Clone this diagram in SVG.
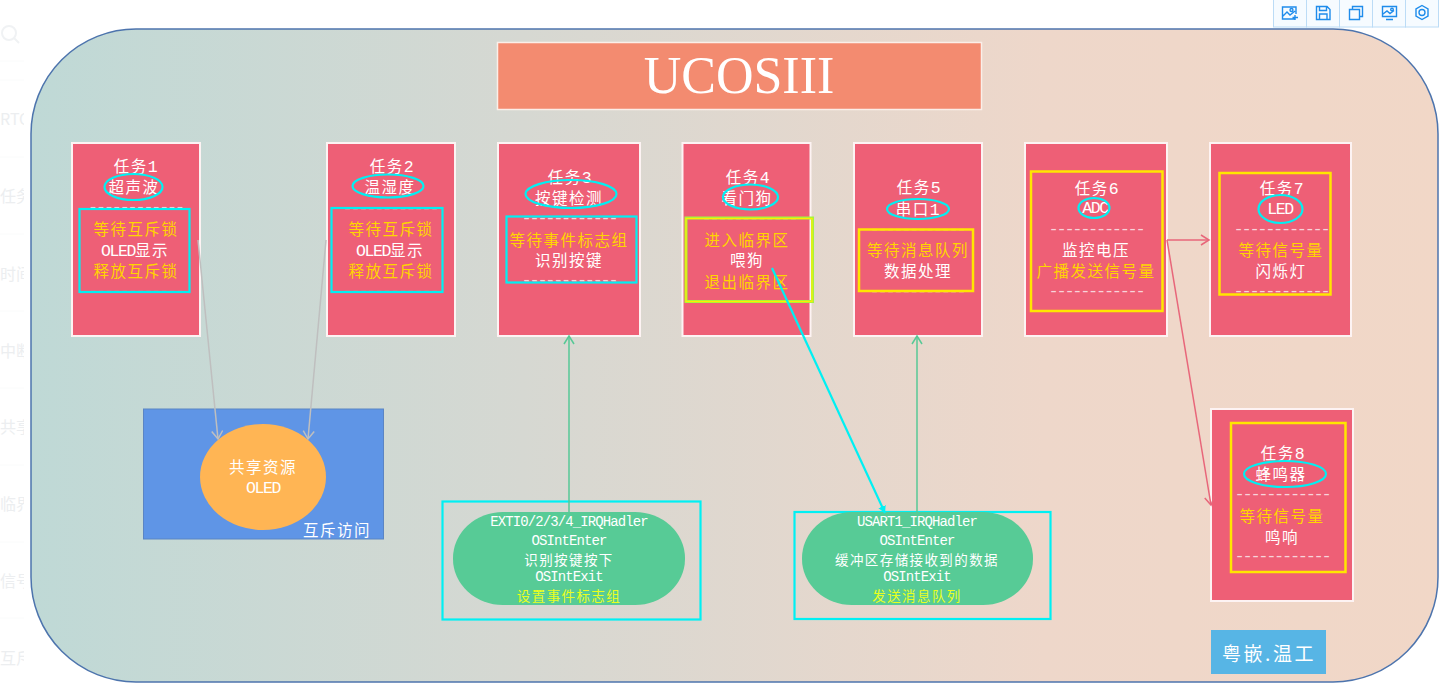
<svg xmlns="http://www.w3.org/2000/svg" width="1439" height="683" viewBox="0 0 1439 683">
<style>
text{font-family:"Noto Sans CJK SC","Liberation Sans",sans-serif;text-anchor:middle;dominant-baseline:central;fill:#fff}
.t{font-size:15.5px;letter-spacing:1.5px;dominant-baseline:auto;transform:translateY(6px)}
.y{fill:#ffd500}
.m{font-family:"Liberation Mono",monospace;font-size:16.5px;letter-spacing:-1.4px}
.d{font-family:"Liberation Mono",monospace;font-size:17px;letter-spacing:-2.3px;fill:#f8d3da}
.s{font-size:13.5px;letter-spacing:1.4px}
.sm{font-family:"Liberation Mono",monospace;font-size:14px;letter-spacing:-.9px}
.yy{fill:#e8ff1e}
.task{fill:#ee5f76;stroke:#fdf3f3;stroke-width:2}
.cy{fill:none;stroke:#00f0f3;stroke-width:2.2}
.ye{fill:none;stroke:#ffe600;stroke-width:2.5}
.ghost{font-size:16px;fill:#eceef0;text-anchor:start}
.tb{fill:#f6fbff;stroke:#bcdcf6;stroke-width:1}
.ic{fill:none;stroke:#1f8ceb;stroke-width:1.4}
.con{fill:none;stroke-width:1.5}
</style>
<defs>
<linearGradient id="bg" x1="0" y1="0" x2="1" y2="0"><stop offset="0" stop-color="#bfd9d6"/><stop offset=".35" stop-color="#d6d8d2"/><stop offset=".72" stop-color="#eed7ca"/><stop offset="1" stop-color="#f1d7c7"/></linearGradient>
<clipPath id="gc"><rect x="0" y="0" width="24" height="683"/></clipPath>
<marker id="aGray" markerUnits="userSpaceOnUse" markerWidth="16" markerHeight="16" refX="10" refY="6" orient="auto"><path d="M2 0.5L10 6L2 11.5" fill="none" stroke="#bfbfbf" stroke-width="1.5"/></marker>
<marker id="aGreen" markerUnits="userSpaceOnUse" markerWidth="16" markerHeight="16" refX="10" refY="6" orient="auto"><path d="M2 1L10 6L2 11" fill="none" stroke="#57c996" stroke-width="1.5"/></marker>
<marker id="aRed" markerUnits="userSpaceOnUse" markerWidth="16" markerHeight="16" refX="10" refY="6" orient="auto"><path d="M2 1L10 6L2 11" fill="none" stroke="#e8667a" stroke-width="1.5"/></marker>
<marker id="aCyan" markerUnits="userSpaceOnUse" markerWidth="10" markerHeight="10" refX="7" refY="4" orient="auto"><path d="M0 0L7 4L0 8Z" fill="#00f0f3"/></marker>
</defs>
<rect width="1439" height="683" fill="#fff"/>
<g id="ghost-sidebar" clip-path="url(#gc)">
<circle cx="9" cy="33" r="7" fill="none" stroke="#f0f2f4" stroke-width="2"/><path d="M14 38L19 43" stroke="#f0f2f4" stroke-width="2"/>
<path d="M0 61H24M0 80H24M0 157H24M0 234H24M0 311H24M0 388H24M0 465H24M0 542H24M0 618H24" stroke="#fafbfb" stroke-width="1"/>
<text class="ghost" x="0" y="118">RTOS</text><text class="ghost" x="0" y="195">任务</text><text class="ghost" x="0" y="273">时间</text><text class="ghost" x="0" y="350">中断</text><text class="ghost" x="0" y="426">共享</text><text class="ghost" x="0" y="503">临界</text><text class="ghost" x="0" y="580">信号</text><text class="ghost" x="0" y="657">互斥</text>
</g>
<g id="toolbar">
<rect class="tb" x="1273.5" y="-1" width="33" height="28"/><rect class="tb" x="1306.5" y="-1" width="33" height="28"/><rect class="tb" x="1339.5" y="-1" width="33" height="28"/><rect class="tb" x="1372.5" y="-1" width="33" height="28"/><rect class="tb" x="1405.5" y="-1" width="33" height="28"/>
<path class="ic" d="M1295 19H1282.500V7H1296V14M1283 16L1287 12L1290 15L1295 11M1295 15V20M1292.500 17.500H1298"/><circle class="ic" cx="1291.500" cy="10" r="1.500"/>
<path class="ic" d="M1316.500 6.500H1327L1330 9.500V19.500H1316.500ZM1319.500 6.500V10.500H1326.500V6.500M1319.500 19.500V14H1327V19.500"/>
<path class="ic" d="M1349.500 9.500H1359.500V19.500H1349.500ZM1352.500 9.500V6.500H1362.500V16.500H1359.500"/>
<path class="ic" d="M1382.500 6.500H1396.500V16.500H1382.500ZM1383 14L1387 11L1390 13.500L1394 10.500M1386 19.500H1393"/><circle class="ic" cx="1392" cy="9.500" r="1.300"/>
<path class="ic" d="M1422 5.500L1428 9V16L1422 19.500L1416 16V9Z"/><circle class="ic" cx="1422" cy="12.500" r="3"/>
</g>
<rect id="panel" x="31" y="29" width="1407" height="653" rx="105" ry="105" fill="url(#bg)" stroke="#4d74ad" stroke-width="1.500"/>
<g id="title"><rect x="497.500" y="42.500" width="484" height="67" fill="#f38b70" stroke="#fbeee8" stroke-width="1.500"/><text x="739" y="75" style="font-family:'Liberation Serif',serif;font-size:52px">UCOSIII</text></g>

<g id="task1"><rect class="task" x="72" y="143" width="128" height="193"/>
<text class="t" x="135" y="166">任务<tspan class="m">1</tspan></text><text class="t" x="134" y="187">超声波</text><ellipse class="cy" cx="133.500" cy="187" rx="29" ry="13"/>
<text class="d" x="135.500" y="207.500">------------</text><text class="d" x="135.500" y="291">------------</text>
<rect class="cy" x="79.500" y="209" width="110" height="83"/>
<text class="t y" x="136" y="229">等待互斥锁</text><text class="t" x="135" y="250"><tspan class="m">OLED</tspan>显示</text><text class="t y" x="136" y="271">释放互斥锁</text></g>

<g id="task2"><rect class="task" x="327" y="143" width="128" height="193"/>
<text class="t" x="391" y="166">任务<tspan class="m">2</tspan></text><text class="t" x="390" y="187">温湿度</text><ellipse class="cy" cx="388" cy="186" rx="35.500" ry="11.500"/>
<text class="d" x="390" y="208">------------</text><text class="d" x="390" y="291">------------</text>
<rect class="cy" x="331.500" y="208" width="111" height="84"/>
<text class="t y" x="391" y="229">等待互斥锁</text><text class="t" x="390" y="250"><tspan class="m">OLED</tspan>显示</text><text class="t y" x="391" y="271">释放互斥锁</text></g>

<g id="task3"><rect class="task" x="498" y="143" width="142" height="193"/>
<text class="t" x="569" y="177">任务<tspan class="m">3</tspan></text><text class="t" x="569" y="198">按键检测</text><ellipse class="cy" cx="571" cy="194" rx="45.500" ry="14"/>
<rect class="cy" x="506.500" y="216.500" width="130" height="66"/>
<text class="d" x="569" y="218.500">------------</text><text class="d" x="569" y="280">------------</text>
<text class="t y" x="569" y="240">等待事件标志组</text><text class="t" x="569" y="260">识别按键</text></g>

<g id="task4"><rect class="task" x="682.500" y="143" width="128" height="193"/>
<text class="t" x="747" y="177">任务<tspan class="m">4</tspan></text><text class="t" x="747" y="198">看门狗</text><ellipse class="cy" cx="750.500" cy="197" rx="27.500" ry="12.500"/>
<text class="d" x="749" y="218">------------</text><text class="d" x="749" y="301">------------</text>
<rect x="686" y="218" width="126.500" height="83.500" fill="none" stroke="#a5f53f" stroke-width="3"/><rect x="686" y="218.500" width="126" height="83" fill="none" stroke="#ffee00" stroke-width="1.200"/>
<text class="t y" x="747" y="240">进入临界区</text><text class="t" x="747" y="260">喂狗</text><text class="t y" x="747" y="282">退出临界区</text></g>

<g id="task5"><rect class="task" x="854" y="143" width="128" height="193"/>
<text class="t" x="918" y="187">任务<tspan class="m">5</tspan></text><text class="t" x="917" y="209">串口<tspan class="m">1</tspan></text><ellipse class="cy" cx="918" cy="209" rx="31" ry="10"/>
<text class="d" x="917" y="229.500">------------</text><text class="d" x="917" y="291">------------</text>
<rect class="ye" x="859" y="229.500" width="114" height="61.500"/>
<text class="t y" x="918" y="250">等待消息队列</text><text class="t" x="918" y="271">数据处理</text></g>

<g id="task6"><rect class="task" x="1025" y="143" width="142" height="193"/>
<rect class="ye" x="1031" y="171.500" width="131.500" height="139.500"/>
<text class="t" x="1096" y="188">任务<tspan class="m">6</tspan></text><text class="m" x="1095" y="208">ADC</text><ellipse class="cy" cx="1094" cy="208" rx="15.500" ry="10"/>
<text class="d" x="1096" y="229">------------</text><text class="t" x="1096" y="250">监控电压</text><text class="t y" x="1096" y="271">广播发送信号量</text><text class="d" x="1096" y="291">------------</text></g>

<g id="task7"><rect class="task" x="1210" y="143" width="141" height="193"/>
<rect class="ye" x="1219.500" y="173" width="111" height="121.500"/>
<text class="t" x="1281" y="188">任务<tspan class="m">7</tspan></text><text class="m" x="1280" y="209">LED</text><ellipse class="cy" cx="1280.500" cy="209" rx="22" ry="14"/>
<text class="d" x="1281" y="229">------------</text><text class="t y" x="1281" y="250">等待信号量</text><text class="t" x="1281" y="271">闪烁灯</text><text class="d" x="1281" y="291">------------</text></g>

<g id="task8"><rect class="task" x="1211" y="409" width="142" height="192"/>
<rect class="ye" x="1231" y="423" width="114.500" height="149"/>
<text class="t" x="1282" y="453">任务<tspan class="m">8</tspan></text><text class="t" x="1281" y="474">蜂鸣器</text><ellipse class="cy" cx="1285" cy="474" rx="41" ry="13"/>
<text class="d" x="1282" y="494.500">------------</text><text class="t y" x="1282" y="516">等待信号量</text><text class="t" x="1282" y="537">鸣响</text><text class="d" x="1282" y="556.500">------------</text></g>

<g id="shared"><rect x="143.500" y="409" width="240" height="130" fill="#5f95e6" stroke="#5b85c4"/><ellipse cx="263" cy="477" rx="63" ry="53" fill="#ffb554"/>
<text class="t" x="263" y="467">共享资源</text><text class="m" x="263" y="488">OLED</text><text class="t" x="337" y="530">互斥访问</text></g>

<g id="isr1"><rect class="cy" x="442.500" y="501.500" width="258" height="118"/><rect x="453" y="512" width="232" height="93" rx="50" ry="46" fill="#57cb96"/>
<text class="sm" x="569" y="522">EXTI0/2/3/4_IRQHadler</text><text class="sm" x="569" y="541">OSIntEnter</text><text class="s" x="569" y="558.500">识别按键按下</text><text class="sm" x="569" y="577">OSIntExit</text><text class="s yy" x="569" y="594.500">设置事件标志组</text></g>

<g id="isr2"><rect class="cy" x="794.500" y="512" width="256" height="107"/><rect x="802" y="512" width="231" height="93" rx="50" ry="46" fill="#57cb96"/>
<text class="sm" x="917" y="522">USART1_IRQHadler</text><text class="sm" x="917" y="541">OSIntEnter</text><text class="s" x="917" y="558.500">缓冲区存储接收到的数据</text><text class="sm" x="917" y="577">OSIntExit</text><text class="s yy" x="917" y="594.500">发送消息队列</text></g>

<g id="badge"><rect x="1211" y="630" width="115" height="44" fill="#57b5e5"/><text x="1269" y="652" style="font-size:19px;letter-spacing:2.5px">粤嵌.温工</text></g>

<g id="connectors">
<path class="con" stroke="#bfbfbf" marker-end="url(#aGray)" d="M198 240L218 439"/>
<path class="con" stroke="#bfbfbf" marker-end="url(#aGray)" d="M326 240L308 439"/>
<path class="con" stroke="#57c996" marker-end="url(#aGreen)" d="M569 512V336"/>
<path class="con" stroke="#57c996" marker-end="url(#aGreen)" d="M917 512V336"/>
<path class="con" stroke="#00f0f3" style="stroke-width:2.2px" marker-end="url(#aCyan)" d="M772 268L885 513"/>
<path class="con" stroke="#e8667a" marker-end="url(#aRed)" d="M1167 240H1209"/>
<path class="con" stroke="#e8667a" marker-end="url(#aRed)" d="M1167 240L1211 505"/>
</g>
</svg>
